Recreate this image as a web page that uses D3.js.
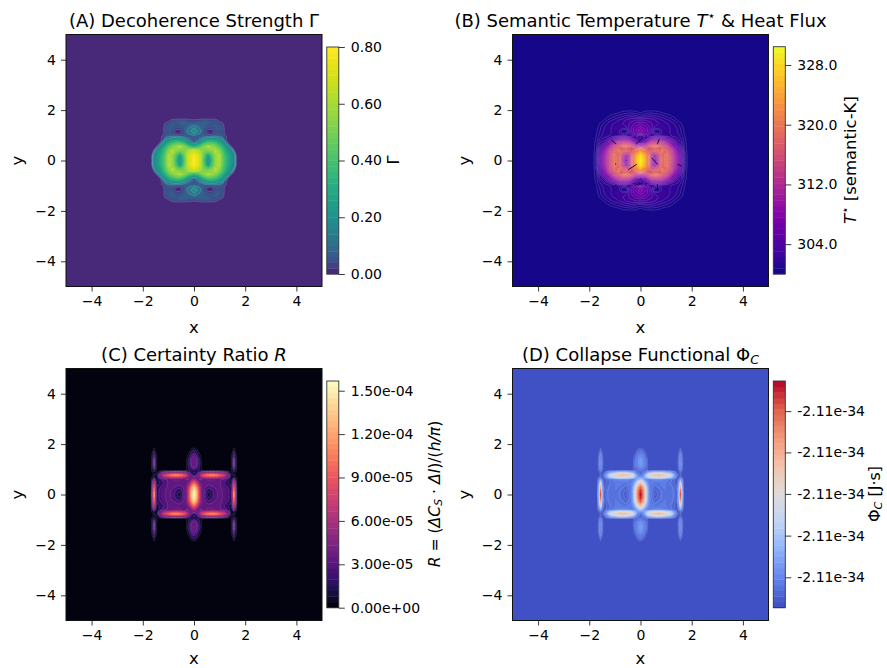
<!DOCTYPE html>
<html>
<head>
<meta charset="utf-8">
<script src="https://d3js.org/d3.v7.min.js"></script>
<style>
body { margin: 0; background: #fff; }
text { font-family: "DejaVu Sans", sans-serif; fill: #000; }
</style>
</head>
<body>
<script>
// values, one quadrant each (x >= 0, y >= 0), mirrored when drawn
var gammaX = [0, .2, .4, .55, .7, .85, 1, 1.12, 1.22, 1.35, 1.5, 1.6, 1.66];
var gammaY = [0, .2, .4, .55, .7, .85, .97, 1.08, 1.18, 1.3, 1.45, 1.58, 1.68];
var gammaZ = [
  [.80, .70, .40, .14, .37, .58, .60, .47, .38, .29, .20, .17, 0],
  [.79, .70, .44, .25, .42, .58, .60, .46, .37, .28, .19, .16, 0],
  [.68, .60, .52, .52, .56, .60, .53, .41, .32, .23, .17, 0, 0],
  [.32, .42, .56, .60, .58, .52, .43, .33, .25, .18, 0, 0, 0],
  [.09, .20, .36, .42, .42, .38, .30, .23, .17, 0, 0, 0, 0],
  [.05, .10, .18, .23, .24, .22, .18, .15, .03, 0, 0, 0, 0],
  [.08, .07, .07, .08, .09, .09, .08, .06, .03, 0, 0, 0, 0],
  [.17, .11, .055, 0, 0, .055, .06, .055, 0, 0, 0, 0, 0],
  [.21, .13, .055, 0, 0, .055, .06, .055, 0, 0, 0, 0, 0],
  [.16, .10, .06, .05, .05, .06, .06, .05, 0, 0, 0, 0, 0],
  [.08, .07, .06, .06, .06, .06, .055, .03, 0, 0, 0, 0, 0],
  [.03, .05, .06, .06, .055, .045, .01, 0, 0, 0, 0, 0, 0],
  [0, 0, 0, 0, 0, 0, 0, 0, 0, 0, 0, 0, 0]
];
var gammaBar = [0, .2, .4, .6, .8];
var gammaLines = [.02, .1, .16, .59];

var tempX = [0, .2, .4, .55, .7, .85, 1, 1.15, 1.3, 1.45, 1.6, 1.72, 1.85];
var tempY = [0, .2, .4, .55, .7, .85, .97, 1.08, 1.18, 1.3, 1.45, 1.6, 1.75, 1.9, 2.02];
var tempZ = [
  [330, 325, 313, 305, 312, 318.5, 319.5, 316.5, 312.5, 308.5, 304.5, 301.5, 300],
  [329, 324, 314, 309, 314, 318.5, 319.5, 316, 312, 308, 304, 301.5, 300],
  [323, 319, 317, 317, 318, 319.5, 318, 315, 310.5, 306.5, 303.5, 301, 300],
  [312, 314, 318, 319.5, 319, 317, 315.5, 312, 308, 305, 302.5, 300.8, 300],
  [304, 307.5, 312.5, 314, 314, 313, 310.5, 308, 305.5, 303, 302, 300.7, 300],
  [302.5, 304, 306.5, 308, 308, 307, 305.5, 304, 302.8, 302.3, 301.5, 300.5, 300],
  [303, 303.5, 303, 303, 303, 302.8, 302.6, 302.2, 302, 301.8, 301.2, 300.4, 300],
  [306.5, 305.5, 303.5, 301.6, 301.4, 302.2, 302.3, 302.1, 301.9, 301.6, 300.9, 300.3, 300],
  [308, 306, 303.5, 301, 301, 302.2, 302.3, 302.1, 301.9, 301.5, 300.8, 300.2, 300],
  [306.5, 305.5, 304, 302.6, 302.4, 302.5, 302.4, 302.1, 301.8, 301.4, 300.7, 300, 300],
  [305, 304.5, 303.6, 303, 302.7, 302.4, 302.2, 302, 301.6, 301, 300.4, 300, 300],
  [303.4, 303.4, 303.1, 302.8, 302.4, 302.1, 301.8, 301.4, 300.9, 300.3, 300, 300, 300],
  [301.3, 301.9, 302, 301.8, 301.5, 301.2, 300.9, 300.6, 300.2, 300, 300, 300, 300],
  [300.3, 300.7, 300.8, 300.7, 300.6, 300.3, 300.1, 300, 300, 300, 300, 300, 300],
  [300, 300, 300, 300, 300, 300, 300, 300, 300, 300, 300, 300, 300]
];
var tempBar = [304, 312, 320, 328];
var tempLines = [300.35, 300.9, 301.5, 302.1, 302.7, 303.4, 304.2, 305, 306, 307, 308, 309, 310, 311, 312, 313, 314, 315, 316, 317, 318, 319];

// heat flux arrows: grid point and vector, in data units
var fluxGrid = [-5, -4.19, -3.38, -2.58, -1.77, -.96, -.15, .66, 1.46, 2.27, 3.08, 3.88, 4.69];
var fluxX = [-.96, -.15, .66, -.15, .66, -.96, 1.46, -.15, -.96, .66];
var fluxY = [.66, .66, .66, -.15, -.15, -.15, -.15, -.96, -.96, -.96];
var fluxU = [-.19, .22, .08, -.33, -.22, -.03, .15, .2, -.06, .01];
var fluxV = [.16, .24, .2, -.22, .25, .03, -.08, .07, -.07, -.25];

// R and Phi share the same node positions
var ratioX = [0, .1, .2, .3, .4, .57, .7, .85, 1, 1.2, 1.35, 1.44, 1.5, 1.56, 1.62, 1.68];
var ratioY = [0, .15, .3, .45, .6, .68, .77, .86, .95, 1.1, 1.3, 1.5, 1.7, 1.85, 1.95];
var ratioZ = [ // units of 1e-5
  [15.5, 13, 8, 3.8, 3, .1, 1.8, 3, 3.2, 3, 2.6, 1.5, 4, 12, 4, 0],
  [15, 12.5, 8, 4, 3, 1.5, 2.2, 3, 3.2, 3, 2.6, 1.5, 3.5, 11, 3.5, 0],
  [13.5, 11, 7, 4, 3.2, 2.7, 3, 3.2, 3.2, 2.8, 2.2, 1.2, 3.2, 9.5, 3.2, 0],
  [10, 8, 5, 3.6, 3.4, 3.4, 3.4, 3.4, 3.2, 2.2, 1.2, .8, 2.5, 7.5, 2.5, 0],
  [6, 4.5, 3, 3, 3.5, 3.8, 3.8, 3.6, 3.2, 2.8, 1.8, .5, 1.5, 4, 1.5, 0],
  [4, 4, 4.5, 6, 6.5, 7, 7.2, 7, 6.5, 5.5, 3.2, 1, .6, 1.6, .6, 0],
  [1.5, 2.5, 5, 8, 9.5, 11, 11.5, 11, 9.5, 7.5, 4, 1, .2, .3, .2, 0],
  [1, 2, 3, 4.5, 5, 5.8, 6, 5.8, 5, 4, 2, .4, .2, .8, .2, 0],
  [1.8, 1.5, 1, .3, .1, 0, 0, 0, 0, 0, 0, 0, .7, 2, .7, 0],
  [3.4, 3, 1.5, .1, 0, 0, 0, 0, 0, 0, 0, 0, 1, 3.2, 1, 0],
  [4, 3.4, 1.8, .1, 0, 0, 0, 0, 0, 0, 0, 0, 1.1, 3.5, 1.1, 0],
  [3.4, 2.8, 1, 0, 0, 0, 0, 0, 0, 0, 0, 0, .9, 2.8, .9, 0],
  [2, 1.2, .1, 0, 0, 0, 0, 0, 0, 0, 0, 0, .3, 1.4, .3, 0],
  [.3, .05, 0, 0, 0, 0, 0, 0, 0, 0, 0, 0, 0, .3, 0, 0],
  [0, 0, 0, 0, 0, 0, 0, 0, 0, 0, 0, 0, 0, 0, 0, 0]
];
var ratioBar = [0, 3, 6, 9, 12, 15];
var ratioBarLabels = ["0.00e+00", "3.00e-05", "6.00e-05", "9.00e-05", "1.20e-04", "1.50e-04"];
var ratioLines = [.3, 1.2, 2.4, 3.1];

var phiZ = [ // fraction of the colour bar
  [1, .8, .5, .22, .1, .01, .06, .09, .1, .09, .08, .06, .3, .92, .3, 0],
  [.95, .78, .5, .22, .1, .04, .07, .09, .1, .09, .08, .05, .25, .85, .25, 0],
  [.85, .7, .42, .2, .1, .07, .09, .1, .1, .09, .07, .04, .22, .7, .22, 0],
  [.62, .5, .3, .16, .1, .1, .1, .1, .1, .08, .04, .03, .17, .5, .17, 0],
  [.35, .27, .17, .12, .13, .15, .15, .14, .13, .09, .05, .02, .1, .25, .1, 0],
  [.2, .2, .28, .38, .44, .48, .5, .48, .42, .34, .17, .04, .03, .08, .03, 0],
  [.07, .14, .3, .5, .56, .62, .64, .62, .56, .44, .2, .05, .01, .02, .01, 0],
  [.05, .1, .18, .28, .33, .4, .42, .4, .33, .25, .1, .02, .01, .04, .01, 0],
  [.09, .07, .05, .01, 0, 0, 0, 0, 0, 0, 0, 0, .03, .1, .03, 0],
  [.17, .15, .08, .005, 0, 0, 0, 0, 0, 0, 0, 0, .05, .17, .05, 0],
  [.2, .17, .09, .005, 0, 0, 0, 0, 0, 0, 0, 0, .055, .18, .055, 0],
  [.17, .14, .05, 0, 0, 0, 0, 0, 0, 0, 0, 0, .045, .15, .045, 0],
  [.1, .06, .005, 0, 0, 0, 0, 0, 0, 0, 0, 0, .015, .07, .015, 0],
  [.015, .003, 0, 0, 0, 0, 0, 0, 0, 0, 0, 0, 0, .015, 0, 0],
  [0, 0, 0, 0, 0, 0, 0, 0, 0, 0, 0, 0, 0, 0, 0, 0]
];
var phiBar = [.134, .318, .502, .685, .867];
var phiBarLabels = ["-2.11e-34", "-2.11e-34", "-2.11e-34", "-2.11e-34", "-2.11e-34"];
var phiLines = [.02, .05, .085];

var axisTicks = [-4, -2, 0, 2, 4];
var bandCount = 40;
var coolwarm = d3.scaleLinear()
  .domain([0, .125, .25, .375, .5, .625, .75, .875, 1])
  .range(["#3b4cc0", "#6282ea", "#8db0fe", "#c0d4f5", "#dddcdc", "#f4c3ab", "#f4987a", "#de604d", "#b40426"]);

var w = 887, h = 668;
var svg = d3.select("body").append("svg").attr("width", w).attr("height", h)
  .style("display", "block");

// mirror a quadrant into a full grid that runs out to the plot edges
function mirrorAxis(q) {
  var neg = q.slice(1).reverse().map(function (d) { return -d; });
  return [-5].concat(neg, q, [5]);
}
function mirrorField(z, edge) {
  var rows = z.map(function (r) {
    var left = r.slice(1).reverse();
    return [edge].concat(left, r, [edge]);
  });
  var top = rows.slice(1).reverse();
  var blank = rows[0].map(function () { return edge; });
  var all = [blank].concat(top, rows, [blank]);
  return d3.merge(all);
}

// text with italic / sub / super pieces
function richText(sel, parts) {
  parts.forEach(function (p) {
    var t = sel.append("tspan").text(p[0]);
    if (p[1] && p[1].indexOf("i") >= 0) t.style("font-style", "italic");
    if (p[1] && p[1].indexOf("b") >= 0) t.attr("baseline-shift", "-.22em").style("font-size", "70%");
    if (p[1] && p[1].indexOf("p") >= 0) t.attr("baseline-shift", "super").style("font-size", "70%");
  });
}

function drawPanel(p) {
  var g = svg.append("g");
  var x = d3.scaleLinear().domain([-5, 5]).range([p.left, p.left + 256]);
  var y = d3.scaleLinear().domain([-5, 5]).range([p.top + 252, p.top]);

  var fx = mirrorAxis(p.xs), fy = mirrorAxis(p.ys);
  var field = mirrorField(p.zs, p.min);
  var xAt = d3.scaleLinear().domain(d3.range(fx.length)).range(fx);
  var yAt = d3.scaleLinear().domain(d3.range(fy.length)).range(fy);
  var path = d3.geoPath(d3.geoTransform({
    point: function (a, b) { this.stream.point(x(xAt(a - .5)), y(yAt(b - .5))); }
  }));
  var contours = d3.contours().size([fx.length, fy.length]);

  var step = (p.max - p.min) / bandCount;
  var levels = d3.range(bandCount).map(function (i) { return p.min + i * step; });
  var clipId = "clip" + p.id;
  g.append("clipPath").attr("id", clipId).append("rect")
    .attr("x", p.left).attr("y", p.top).attr("width", 256).attr("height", 252);

  var plot = g.append("g").attr("clip-path", "url(#" + clipId + ")");
  plot.append("rect").attr("x", p.left).attr("y", p.top).attr("width", 256).attr("height", 252)
    .attr("fill", p.color(p.min + step / 2));
  plot.selectAll("path.band").data(levels.slice(1)).enter().append("path")
    .attr("class", "band")
    .attr("d", function (d) { return path(contours.contour(field, d)); })
    .attr("fill", function (d) { return p.color(d + step / 2); })
    .attr("stroke", function (d) { return p.color(d + step / 2); })
    .attr("stroke-width", .2);
  plot.selectAll("path.line").data(p.lines).enter().append("path")
    .attr("class", "line")
    .attr("d", function (d) { return path(contours.contour(field, d)); })
    .attr("fill", "none").attr("stroke", "#fff").attr("stroke-opacity", p.lineAlpha).attr("stroke-width", .55);

  if (p.flux) {
    var grid = d3.cross(fluxGrid, fluxGrid);
    plot.selectAll("circle.tip").data(grid).enter().append("circle")
      .attr("cx", function (d) { return x(d[0]); })
      .attr("cy", function (d) { return y(d[1]); })
      .attr("r", .6).attr("fill", "#000").attr("opacity", .4);
    plot.selectAll("line.flux").data(fluxX).enter().append("line")
      .attr("x1", function (d) { return x(d); })
      .attr("y1", function (d, i) { return y(fluxY[i]); })
      .attr("x2", function (d, i) { return x(d + fluxU[i]); })
      .attr("y2", function (d, i) { return y(fluxY[i] + fluxV[i]); })
      .attr("stroke", "#14101e").attr("stroke-width", 1);
  }

  // axes
  var ax = g.append("g").attr("transform", "translate(0," + (p.top + 252) + ")")
    .call(d3.axisBottom(x).tickValues(axisTicks).tickSize(5).tickPadding(5).tickFormat(d3.format("d")));
  var ay = g.append("g").attr("transform", "translate(" + p.left + ",0)")
    .call(d3.axisLeft(y).tickValues(axisTicks).tickSize(5).tickPadding(5).tickFormat(d3.format("d")));
  [ax, ay].forEach(function (a) {
    a.select(".domain").remove();
    a.selectAll("text").style("font-size", "14px").style("font-family", '"DejaVu Sans"');
    a.selectAll("line").attr("stroke", "#222").attr("stroke-width", .9);
  });
  g.append("rect").attr("x", p.left).attr("y", p.top).attr("width", 256).attr("height", 252)
    .attr("fill", "none").attr("stroke", "#111").attr("stroke-width", 1);

  g.append("text").attr("x", p.left + 128).attr("y", p.top + p.xLabelDy)
    .attr("text-anchor", "middle").style("font-size", "16.5px").text("x");
  g.append("text").attr("transform", "translate(" + (p.left - 43) + "," + (p.top + 126) + ") rotate(-90)")
    .attr("text-anchor", "middle").style("font-size", "16.5px").text("y");
  g.append("text").attr("x", p.left + 128).attr("y", p.top - 8)
    .attr("text-anchor", "middle").style("font-size", "18px").call(richText, p.title);

  // colour bar
  var barL = p.left + 260.8, barW = 12;
  var by = d3.scaleLinear().domain([p.min, p.max]).range([p.barBottom, p.barTop]);
  g.selectAll("rect.bar").data(levels).enter().append("rect")
    .attr("class", "bar")
    .attr("x", barL).attr("width", barW)
    .attr("y", function (d) { return by(d + step); })
    .attr("height", function (d) { return by(d) - by(d + step) + .4; })
    .attr("fill", function (d) { return p.color(d + step / 2); });
  g.append("rect").attr("x", barL).attr("width", barW).attr("y", p.barTop)
    .attr("height", p.barBottom - p.barTop).attr("fill", "none").attr("stroke", "#333").attr("stroke-width", .9);
  var barAxis = d3.axisRight(by).tickValues(p.bar).tickSize(6).tickPadding(6)
    .tickFormat(function (d, i) { return p.barLabels[i]; });
  var ac = g.append("g").attr("transform", "translate(" + (barL + barW) + ",0)").call(barAxis);
  ac.select(".domain").remove();
  ac.selectAll("text").style("font-size", "14px").style("font-family", '"DejaVu Sans"');
  ac.selectAll("line").attr("stroke", "#222").attr("stroke-width", .9);
  g.append("text").attr("transform", "translate(" + p.labelX + "," + p.labelY + ") rotate(-90)")
    .attr("text-anchor", "middle").style("font-size", p.labelSize + "px").call(richText, p.label);
}

drawPanel({
  id: "A", left: 66, top: 34.5, xLabelDy: 298, xs: gammaX, ys: gammaY, zs: gammaZ, min: 0, max: .8,
  color: function (v) { return d3.interpolateViridis(Math.sqrt(v / .8)); },
  lines: gammaLines, lineAlpha: .26, bar: gammaBar, barLabels: gammaBar.map(d3.format(".2f")),
  barTop: 47, barBottom: 274,
  title: [["(A) Decoherence Strength Γ"]],
  label: [["Γ"]], labelSize: 16.5, labelX: 399, labelY: 160
});
drawPanel({
  id: "B", left: 512.5, top: 34.5, xLabelDy: 298, xs: tempX, ys: tempY, zs: tempZ, min: 300, max: 330.45,
  color: function (v) { return d3.interpolatePlasma((v - 300) / 30.45); },
  lines: tempLines, lineAlpha: .27, bar: tempBar, barLabels: tempBar.map(d3.format(".1f")),
  barTop: 46.7, barBottom: 274, flux: true,
  title: [["(B) Semantic Temperature "], ["T", "i"], ["⋆", "p"], ["  & Heat Flux"]],
  label: [["T", "i"], ["⋆", "p"], [" [semantic-K]"]], labelSize: 16.5, labelX: 856, labelY: 160
});
drawPanel({
  id: "C", left: 66, top: 368.5, xLabelDy: 295.5, xs: ratioX, ys: ratioY, zs: ratioZ, min: 0, max: 15.67,
  color: function (v) { return d3.interpolateMagma(Math.pow(v / 15.67, .8)); },
  lines: ratioLines, lineAlpha: .22, bar: ratioBar, barLabels: ratioBarLabels,
  barTop: 381, barBottom: 607.7,
  title: [["(C) Certainty Ratio "], ["R", "i"]],
  label: [["R", "i"], [" = ("], ["ΔC", "i"], ["S", "ib"], [" · "], ["ΔI", "i"], [")/("], ["h/π", "i"], [")"]],
  labelSize: 15.6, labelX: 440, labelY: 494
});
drawPanel({
  id: "D", left: 512.5, top: 368.5, xLabelDy: 295.5, xs: ratioX, ys: ratioY, zs: phiZ, min: 0, max: 1,
  color: function (v) { return coolwarm(v); },
  lines: phiLines, lineAlpha: .25, bar: phiBar, barLabels: phiBarLabels,
  barTop: 381, barBottom: 607.7,
  title: [["(D) Collapse Functional Φ"], ["C", "ib"]],
  label: [["Φ"], ["C", "ib"], [" [J·s]"]], labelSize: 16, labelX: 880, labelY: 494
});
</script>
</body>
</html>
